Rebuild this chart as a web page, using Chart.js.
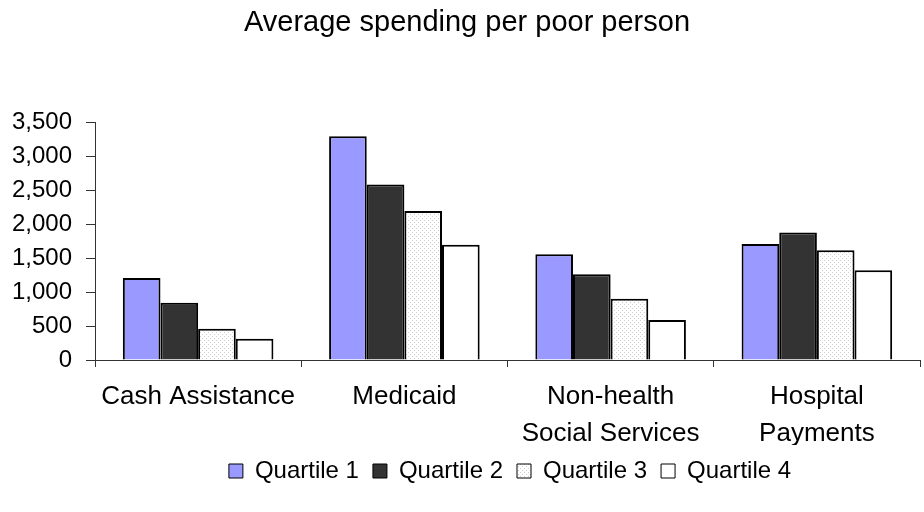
<!DOCTYPE html>
<html>
<head>
<meta charset="utf-8">
<script src="https://cdn.jsdelivr.net/npm/chart.js@4"></script>
<style>
  body { margin: 0; background: #fff; }
  #wrap { width: 924px; height: 512px; }
</style>
</head>
<body>
<div id="wrap"><canvas id="spendChart"></canvas></div>
<script>
const categories = ['Cash Assistance', 'Medicaid', ['Non-health', 'Social Services'], ['Hospital', 'Payments']];
const seriesNames = ['Quartile 1', 'Quartile 2', 'Quartile 3', 'Quartile 4'];
const quartile1 = [1210, 3300, 1560, 1710];
const quartile2 = [845, 2590, 1265, 1880];
const quartile3 = [460, 2200, 905, 1620];
const quartile4 = [315, 1700, 590, 1325];
const yTicks = [0, 500, 1000, 1500, 2000, 2500, 3000, 3500];

// light dotted fill like the old excel pattern
function dots() {
    const c = document.createElement('canvas');
    c.width = 4; c.height = 4;
    const g = c.getContext('2d');
    g.fillStyle = '#fff';
    g.fillRect(0, 0, 4, 4);
    g.fillStyle = '#cccccc';
    g.fillRect(0, 0, 1, 1);
    g.fillRect(2, 2, 1, 1);
    return g.createPattern(c, 'repeat');
}

// legend and title in the original sit a bit right of centre
const shiftBlocks = {
    id: 'shiftBlocks',
    afterLayout(chart) {
        chart.legend.left += 50;
        chart.legend.right += 50;
        chart.titleBlock.left += 7;
        chart.titleBlock.right += 7;
    }
};

const ctx = document.getElementById('spendChart').getContext('2d');
const fills = ['#9999FF', '#333333', dots(), '#FFFFFF'];
const values = [quartile1, quartile2, quartile3, quartile4];
const font = 'Liberation Sans, Arial, sans-serif';

new Chart(ctx, {
    type: 'bar',
    data: {
        labels: categories,
        datasets: seriesNames.map((name, i) => ({
            label: name,
            data: values[i],
            backgroundColor: fills[i],
            borderColor: '#000',
            borderWidth: 2,
            categoryPercentage: 0.73,
            barPercentage: 1
        }))
    },
    plugins: [shiftBlocks],
    options: {
        responsive: true,
        maintainAspectRatio: false,
        animation: false,
        layout: { padding: { top: 6, right: 4, left: 0, bottom: 19 } },
        plugins: {
            title: {
                display: true,
                text: 'Average spending per poor person',
                color: '#000',
                font: { family: font, size: 29, weight: 'normal' },
                padding: { top: 0, bottom: 82 }
            },
            legend: {
                position: 'bottom',
                labels: {
                    color: '#000',
                    font: { family: font, size: 24 },
                    boxWidth: 14,
                    boxHeight: 14,
                    padding: 14,
                    generateLabels: chart => chart.data.datasets.map((ds, i) => ({
                        text: ds.label,
                        fillStyle: ds.backgroundColor,
                        strokeStyle: '#000',
                        lineWidth: 1,
                        datasetIndex: i,
                        fontColor: '#000'
                    }))
                }
            },
            tooltip: { enabled: false }
        },
        scales: {
            x: {
                afterFit: scale => { scale.height = 85; },
                grid: { drawOnChartArea: false, tickLength: 7, color: '#333', offset: true },
                border: { color: '#333', width: 1 },
                ticks: {
                    color: '#000',
                    font: { family: font, size: 26, lineHeight: 1.42 },
                    padding: 11,
                    maxRotation: 0
                }
            },
            y: {
                min: 0,
                max: 3500,
                afterBuildTicks: axis => { axis.ticks = yTicks.map(v => ({ value: v })); },
                afterFit: scale => { scale.width = 95; },
                grid: { drawOnChartArea: false, tickLength: 9, color: '#333' },
                border: { color: '#333', width: 1 },
                ticks: {
                    color: '#000',
                    font: { family: font, size: 24 },
                    padding: 14,
                    callback: v => v.toLocaleString('en-US')
                }
            }
        }
    }
});
</script>
</body>
</html>
